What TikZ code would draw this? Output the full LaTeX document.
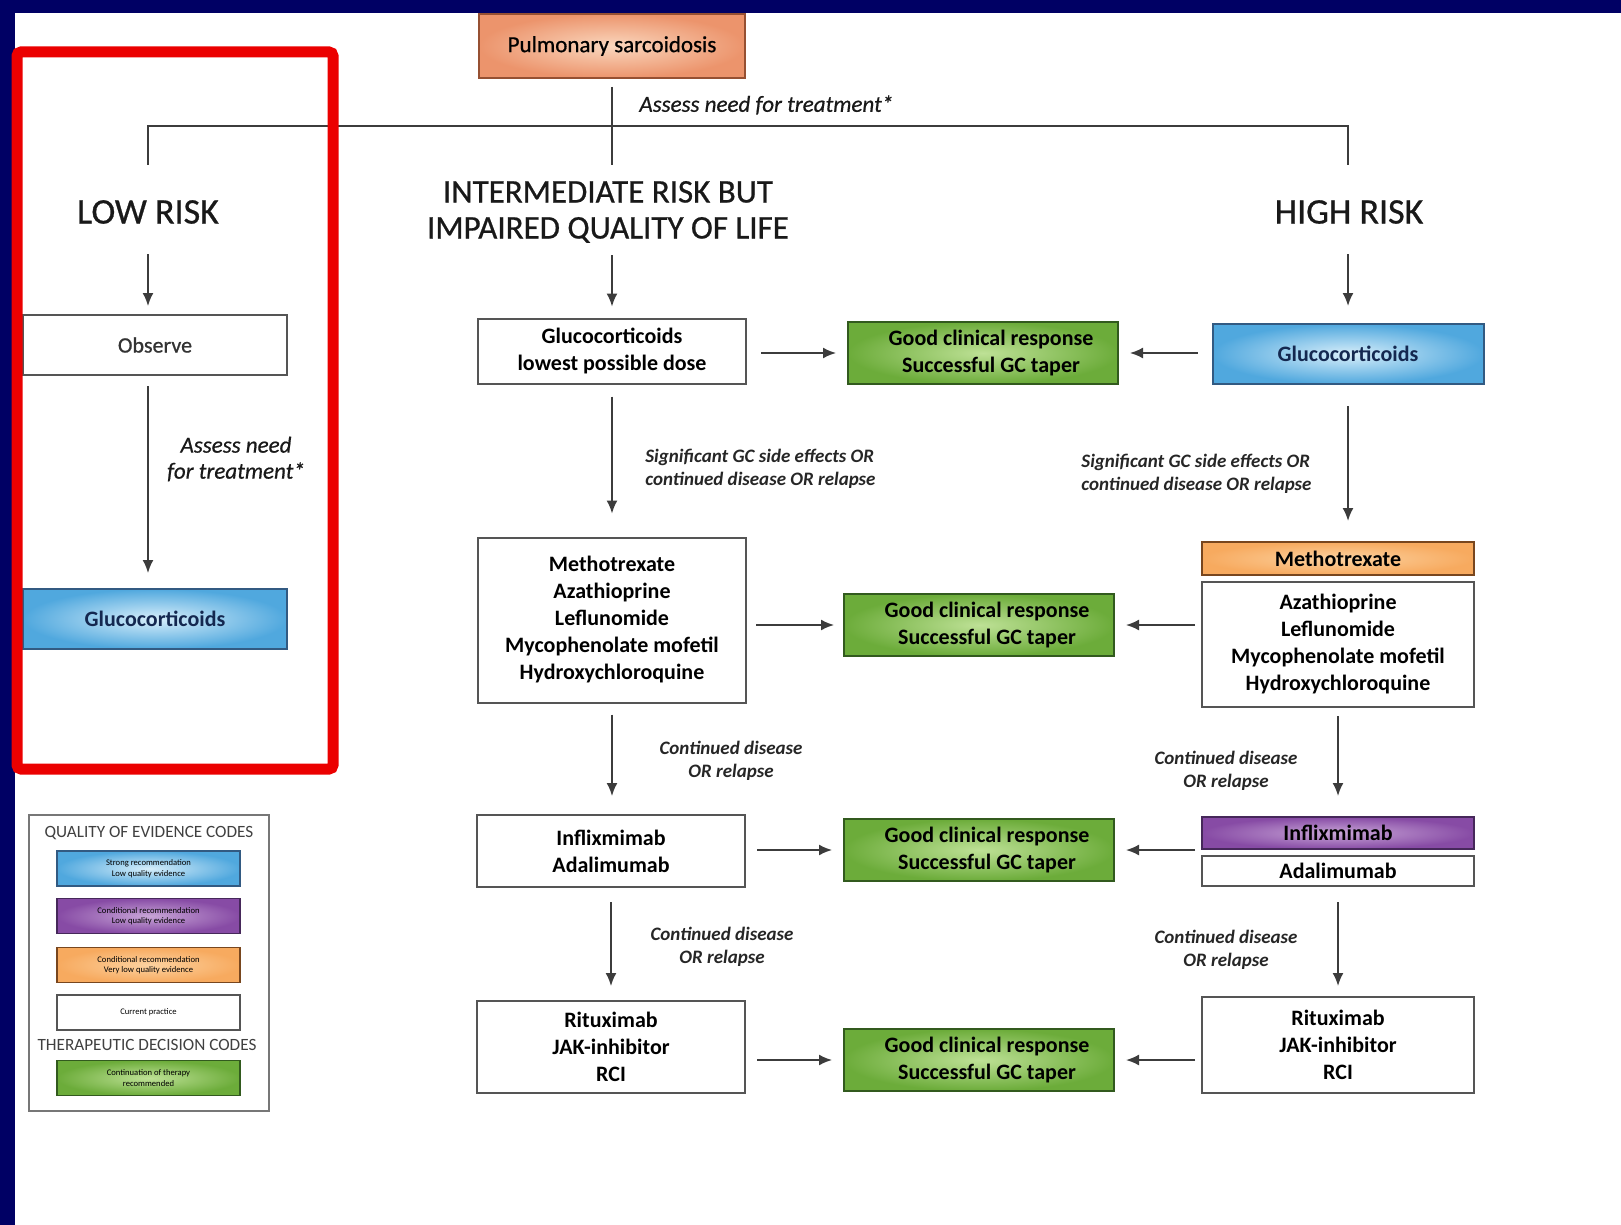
\documentclass[tikz,border=0pt]{standalone}
\usepackage{fontspec}
\setmainfont{Carlito}
\newfontface\semiface{Carlito}[FakeBold=0.7]
\newfontface\semiitface{Carlito Italic}[FakeBold=0.6]
\usetikzlibrary{arrows.meta}

\definecolor{navy}{RGB}{0,0,100}
\definecolor{redframe}{RGB}{235,0,0}
\definecolor{pulmout}{RGB}{236,148,108}
\definecolor{pulmin}{RGB}{250,215,190}
\definecolor{pulmline}{RGB}{150,80,50}
\definecolor{blueout}{RGB}{80,168,222}
\definecolor{bluein}{RGB}{215,238,250}
\definecolor{blueline}{RGB}{50,90,130}
\definecolor{bluetext}{RGB}{20,40,80}
\definecolor{greenout}{RGB}{108,172,58}
\definecolor{greenin}{RGB}{190,225,150}
\definecolor{greenline}{RGB}{50,90,30}
\definecolor{orangeout}{RGB}{247,170,95}
\definecolor{orangein}{RGB}{252,210,160}
\definecolor{orangeline}{RGB}{120,70,30}
\definecolor{purpleout}{RGB}{135,75,165}
\definecolor{purplein}{RGB}{200,165,215}
\definecolor{purpleline}{RGB}{70,40,90}
\definecolor{boxline}{RGB}{85,85,85}
\definecolor{arrline}{RGB}{60,60,60}

\newcommand{\bxfont}{\fontsize{11}{13.5}\selectfont\bfseries}
\newcommand{\headfont}{\semiface\fontsize{18}{21}\selectfont}
\newcommand{\midheadfont}{\semiface\fontsize{16.5}{18}\selectfont}
\newcommand{\notefont}{\fontsize{9.5}{11.5}\selectfont\bfseries\itshape}
\newcommand{\assessfont}{\semiitface\fontsize{11.5}{13}\selectfont}
\newcommand{\legtitlefont}{\fontsize{8.6}{10}\selectfont}
\newcommand{\legtextfont}{\fontsize{4.3}{5.2}\selectfont}

\tikzset{
  box/.style={draw=boxline, line width=1pt, align=center, inner sep=0pt,
    font=\bxfont, text=black},
  plainbox/.style={box, fill=white},
  pulmbox/.style={box, draw=pulmline, inner color=pulmin, outer color=pulmout},
  bluebox/.style={box, draw=blueline, inner color=bluein, outer color=blueout, text=bluetext},
  greenbox/.style={box, draw=greenline, inner color=greenin, outer color=greenout},
  orangebox/.style={box, draw=orangeline, inner color=orangein, outer color=orangeout},
  purplebox/.style={box, draw=purpleline, inner color=purplein, outer color=purpleout},
  colw/.style={minimum width=134pt},
  greenw/.style={minimum width=135pt, minimum height=31pt},
  highw/.style={minimum width=136pt},
  legbox/.style={box, line width=0.8pt, font=\legtextfont, minimum width=91.5pt, minimum height=17.5pt},
  title/.style={inner sep=0pt, align=center, text=black!90},
  note/.style={inner sep=0pt, font=\notefont, align=center, text=black!85},
  treeline/.style={draw=arrline, line width=0.9pt},
  arr/.style={draw=arrline, line width=0.9pt, -{Latex[length=6.5pt,width=5.5pt]}},
}

\begin{document}
\begin{tikzpicture}[x=0.5pt,y=-0.5pt]
\useasboundingbox (0,0) rectangle (1621,1225);
\fill[white] (0,0) rectangle (1621,1225);
% page frame bars
\fill[navy] (0,0) rectangle (1621,13);
\fill[navy] (0,0) rectangle (15,1225);

% root and branches
\node[pulmbox, minimum width=133pt, minimum height=32pt, font=\semiface\fontsize{11.5}{13}\selectfont] (pulm) at (612,46) {Pulmonary sarcoidosis};
\node[inner sep=0pt, font=\assessfont, anchor=west, text=black!90] (assess) at (639,105) {Assess need for treatment*};

\node[title, font=\headfont] (low) at (148,212) {LOW RISK};
\node[title, font=\midheadfont] (mid) at (608,212) {INTERMEDIATE RISK BUT\\IMPAIRED QUALITY OF LIFE};
\node[title, font=\headfont] (high) at (1349,212) {HIGH RISK};

\coordinate (split) at (612,126);
\coordinate (lowtop) at (148,126);
\coordinate (lowend) at (148,165);
\coordinate (hightop) at (1348,126);
\coordinate (highend) at (1348,165);
\coordinate (midend) at (612,165);
\draw[treeline, shorten <=4pt] (pulm.south) -- (midend);
\draw[treeline] (lowend) -- (lowtop) -- (hightop) -- (highend);

% low risk column
\node[plainbox, minimum width=132pt, minimum height=30pt, font=\semiface\fontsize{11}{13}\selectfont, text=black!80] (obs) at (155,345) {Observe};
\node[bluebox, minimum width=132pt, minimum height=30pt] (glow) at (155,619) {Glucocorticoids};
\node[inner sep=0pt, font=\assessfont, align=center, text=black!90] (assess2) at (236,459) {Assess need\\for treatment*};

% intermediate column
\node[plainbox, colw, minimum height=32.5pt] (glmid) at (612,351) {Glucocorticoids\\lowest possible dose};
\node[plainbox, colw, minimum height=82.5pt] (mtxmid) at (612,620) {Methotrexate\\Azathioprine\\Leflunomide\\Mycophenolate mofetil\\Hydroxychloroquine};
\node[plainbox, colw, minimum height=36pt] (infmid) at (611,851) {Inflixmimab\\Adalimumab};
\node[plainbox, colw, minimum height=46pt] (ritmid) at (611,1047) {Rituximab\\JAK-inhibitor\\RCI};

% response column
\node[greenbox, greenw] (g1) at (983,353) {\hspace*{8pt}Good clinical response\\\hspace*{8pt}Successful GC taper};
\node[greenbox, greenw] (g2) at (979,625) {\hspace*{8pt}Good clinical response\\\hspace*{8pt}Successful GC taper};
\node[greenbox, greenw] (g3) at (979,850) {\hspace*{8pt}Good clinical response\\\hspace*{8pt}Successful GC taper};
\node[greenbox, greenw] (g4) at (979,1060) {\hspace*{8pt}Good clinical response\\\hspace*{8pt}Successful GC taper};

% high risk column
\node[bluebox, minimum width=135.5pt, minimum height=30pt] (glhigh) at (1348,354) {Glucocorticoids};
\node[orangebox, highw, minimum height=16.5pt] (mtxh) at (1338,558.5) {Methotrexate};
\node[plainbox, highw, minimum height=62.5pt] (azah) at (1338,644.5) {Azathioprine\\Leflunomide\\Mycophenolate mofetil\\Hydroxychloroquine};
\node[purplebox, highw, minimum height=16pt] (infh) at (1338,833) {Inflixmimab};
\node[plainbox, highw, minimum height=15pt] (adah) at (1338,871) {Adalimumab};
\node[plainbox, highw, minimum height=48pt] (rith) at (1338,1045) {Rituximab\\JAK-inhibitor\\RCI};

% branch labels
\node[note, anchor=west, align=left] (n1) at (645,469) {Significant GC side effects OR\\continued disease OR relapse};
\node[note, anchor=west, align=left] (n2) at (1081,474) {Significant GC side effects OR\\continued disease OR relapse};
\node[note] (n3) at (731,761) {Continued disease\\OR relapse};
\node[note] (n4) at (1226,771) {Continued disease\\OR relapse};
\node[note] (n5) at (722,947) {Continued disease\\OR relapse};
\node[note] (n6) at (1226,950) {Continued disease\\OR relapse};

% arrows from the risk headings
\draw[arr, shorten <=15pt, shorten >=4pt] (low.south) -- (low.south |- obs.north);
\draw[arr, shorten <=6pt, shorten >=5.5pt] (mid.south -| glmid.north) -- (glmid.north);
\draw[arr, shorten <=15pt, shorten >=8.5pt] (high.south -| glhigh.north) -- (glhigh.north);

% low risk flow
\draw[arr, shorten <=5pt, shorten >=7.5pt] (obs.south -| low.south) -- (glow.north -| low.south);

% intermediate flow
\draw[arr, shorten <=6pt, shorten >=11.5pt] (glmid.south) -- (mtxmid.north);
\draw[arr, shorten <=5.5pt, shorten >=9pt] (mtxmid.south) -- (mtxmid.south |- infmid.north);
\draw[arr, shorten <=7pt, shorten >=7pt] (infmid.south) -- (ritmid.north);

% high risk flow
\draw[arr, shorten <=10.5pt, shorten >=10pt] (glhigh.south) -- (glhigh.south |- mtxh.north);
\draw[arr, shorten <=4pt, shorten >=10pt] (azah.south) -- (infh.north);
\draw[arr, shorten <=7.5pt, shorten >=5pt] (adah.south) -- (rith.north);

% towards the responses
\draw[arr, shorten <=7pt, shorten >=5.5pt] (glmid.east |- g1.west) -- (g1.west);
\draw[arr, shorten <=4.5pt, shorten >=4.5pt] (mtxmid.east |- g2.west) -- (g2.west);
\draw[arr, shorten <=5.5pt, shorten >=5.5pt] (infmid.east |- g3.west) -- (g3.west);
\draw[arr, shorten <=5.5pt, shorten >=5.5pt] (ritmid.east |- g4.west) -- (g4.west);
\draw[arr, shorten <=7pt, shorten >=5.5pt] (glhigh.west |- g1.east) -- (g1.east);
\draw[arr, shorten <=3pt, shorten >=5.5pt] (azah.west |- g2.east) -- (g2.east);
\draw[arr, shorten <=3pt, shorten >=5.5pt] (infh.west |- g3.east) -- (g3.east);
\draw[arr, shorten <=3pt, shorten >=5.5pt] (rith.west |- g4.east) -- (g4.east);

% legend
\node[draw=boxline!80, line width=1pt, fill=white, minimum width=120pt, minimum height=148pt] (legend) at (149,963) {};
\node[inner sep=0pt, font=\legtitlefont, text=black!75] (legq) at (149,833) {QUALITY OF EVIDENCE CODES};
\node[legbox, draw=blueline, inner color=bluein, outer color=blueout] (lb1) at (148.5,868.5) {Strong recommendation\\Low quality evidence};
\node[legbox, draw=purpleline, inner color=purplein, outer color=purpleout] (lb2) at (148.5,916) {Conditional recommendation\\Low quality evidence};
\node[legbox, draw=orangeline, inner color=orangein, outer color=orangeout] (lb3) at (148.5,965) {Conditional recommendation\\Very low quality evidence};
\node[legbox, fill=white] (lb4) at (148.5,1012.5) {Current practice};
\node[inner sep=0pt, font=\legtitlefont, text=black!75] (legt) at (147,1045) {THERAPEUTIC DECISION CODES};
\node[legbox, draw=greenline, inner color=greenin, outer color=greenout] (lb5) at (148.5,1078) {Continuation of therapy\\recommended};

% highlight frame around the low risk column
\draw[redframe, line width=5.5pt, rounded corners=2pt] (17,52) rectangle (333,769);
\end{tikzpicture}
\end{document}
